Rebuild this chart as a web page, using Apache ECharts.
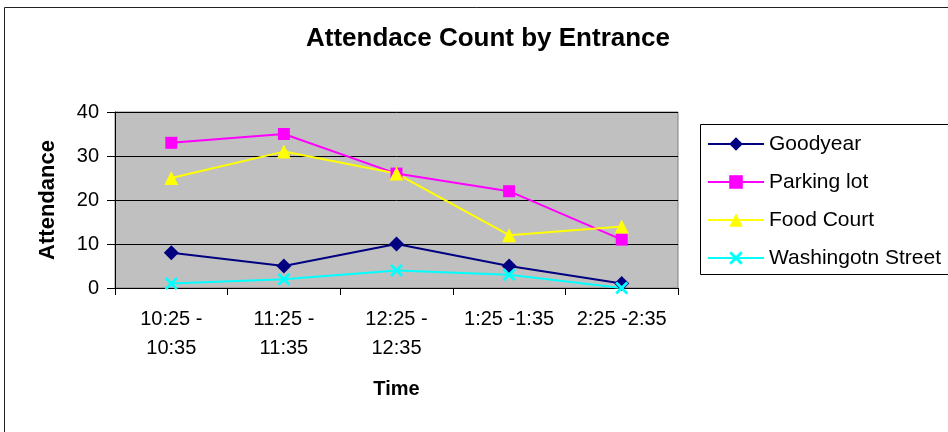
<!DOCTYPE html>
<html><head><meta charset="utf-8">
<script src="https://cdn.jsdelivr.net/npm/echarts@6/dist/echarts.min.js"></script>
<style>html,body{margin:0;padding:0;background:#fff}#c{width:948px;height:432px}</style>
</head><body><div id="c"></div>
<script>
const categories = ['10:25 -\n10:35', '11:25 -\n11:35', '12:25 -\n12:35', '1:25 -1:35', '2:25 -2:35'];
const goodyear = [8, 5, 10, 5, 1];
const parkingLot = [33, 35, 26, 22, 11];
const foodCourt = [25, 31, 26, 12, 14];
const washington = [1, 2, 4, 3, 0];
const yTicks = [0, 10, 20, 30, 40];

const X_PATH = 'path://M0,1.5 L1.5,0 L5,3.5 L8.5,0 L10,1.5 L6.5,5 L10,8.5 L8.5,10 L5,6.5 L1.5,10 L0,8.5 L3.5,5 Z';
const font = 'Liberation Sans, Arial, sans-serif';

function mk(name, data, color, symbol, size) {
  return {
    name, type: 'line', data, symbol, symbolSize: size,
    lineStyle: { color, width: 2 },
    itemStyle: { color },
    emphasis: { disabled: true }, animation: false
  };
}

const chart = echarts.init(document.getElementById('c'), null, { renderer: 'canvas' });
chart.setOption({
  animation: false,
  backgroundColor: '#fff',
  title: {
    text: 'Attendace Count by Entrance', left: 483, top: 21, textAlign: 'center',
    textStyle: { fontFamily: font, fontWeight: 'bold', fontSize: 26, color: '#000' }
  },
  graphic: [
    { type: 'rect', shape: { x: 4.5, y: 7.5, width: 1000, height: 500 }, style: { fill: 'none', stroke: '#222', lineWidth: 1 }, z: -10 },
    { type: 'rect', shape: { x: 700.5, y: 124.5, width: 300, height: 150 }, style: { fill: '#fff', stroke: '#000', lineWidth: 1 }, z: -5 }
  ],
  legend: {
    orient: 'vertical', left: 702, top: 127, itemWidth: 56, itemHeight: 17, itemGap: 14,
    textStyle: { fontFamily: font, fontSize: 21, lineHeight: 24, color: '#000' },
    data: ['Goodyear', 'Parking lot', 'Food Court', 'Washingotn Street']
  },
  grid: {
    left: 115, top: 112, width: 563, height: 176, show: true,
    backgroundColor: '#C0C0C0', borderColor: '#808080', borderWidth: 1
  },
  xAxis: {
    type: 'category', data: categories, boundaryGap: true,
    name: 'Time', nameLocation: 'middle', nameGap: 91,
    nameTextStyle: { fontFamily: font, fontWeight: 'bold', fontSize: 20, color: '#000' },
    axisLine: { lineStyle: { color: '#000', width: 1 } },
    axisTick: { show: true, length: 7, lineStyle: { color: '#000' } },
    axisLabel: { fontFamily: font, fontSize: 20, color: '#000', lineHeight: 29, margin: 17, interval: 0 },
    splitLine: { show: false }
  },
  yAxis: {
    type: 'value', min: 0, max: 40, interval: 10,
    name: 'Attendance', nameLocation: 'middle', nameGap: 56,
    nameTextStyle: { fontFamily: font, fontWeight: 'bold', fontSize: 22, color: '#000' },
    axisLine: { show: true, lineStyle: { color: '#000', width: 1 } },
    axisTick: { show: true, length: 8, lineStyle: { color: '#000' } },
    axisLabel: { fontFamily: font, fontSize: 20, color: '#000', margin: 16,
      formatter: v => yTicks.includes(v) ? String(v) : '' },
    splitLine: { show: true, lineStyle: { color: '#000', width: 1 } }
  },
  series: [
    mk('Goodyear', goodyear, '#000080', 'diamond', 15),
    mk('Parking lot', parkingLot, '#FF00FF', 'rect', 12),
    mk('Food Court', foodCourt, '#FFFF00', 'triangle', 14),
    mk('Washingotn Street', washington, '#00FFFF', X_PATH, 13)
  ]
});
</script></body></html>
